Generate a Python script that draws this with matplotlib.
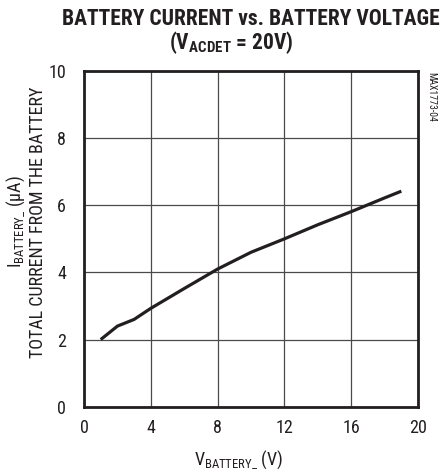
"""
Battery current vs. battery voltage (MAX1773 typical operating characteristic)
"""

import matplotlib
matplotlib.use('Agg')
import matplotlib.pyplot as plt
from matplotlib import font_manager as fm

# narrow sans, like the datasheet artwork
names = {f.name for f in fm.fontManager.ttflist}
FONT = 'Liberation Sans'
for cand in ['Arial Narrow', 'Liberation Sans Narrow', 'Nimbus Sans Narrow',
             'Roboto Condensed', 'Archivo Narrow']:
    if cand in names:
        FONT = cand
        break
plt.rcParams['font.family'] = [FONT, 'DejaVu Sans']
plt.rcParams['mathtext.fontset'] = 'custom'
plt.rcParams['mathtext.rm'] = FONT
plt.rcParams['mathtext.it'] = FONT
plt.rcParams['mathtext.bf'] = FONT + ':bold'

# data
v_battery = [1, 2, 3, 4, 6, 8, 10, 12, 14, 16, 18, 19]
i_battery = [2.0, 2.4, 2.6, 2.93, 3.52, 4.1, 4.6, 5.0, 5.42, 5.81, 6.22, 6.42]

x_ticks = [0, 4, 8, 12, 16, 20]
y_ticks = [0, 2, 4, 6, 8, 10]

INK = '#231f20'

fig = plt.figure(figsize=(4.45, 4.73), dpi=100)
ax = fig.add_axes([0.1888, 0.1402, 0.7506, 0.7097])

ax.plot(v_battery, i_battery, color=INK, linewidth=2.3, solid_capstyle='butt')

ax.set_xlim(0, 20)
ax.set_ylim(0, 10)
ax.set_xticks(x_ticks)
ax.set_yticks(y_ticks)
ax.tick_params(length=0, labelsize=13, colors=INK)
ax.tick_params(axis='x', pad=9)
ax.tick_params(axis='y', pad=13)
ax.grid(True, color='#4a4a4a', linewidth=0.9)
for s in ax.spines.values():
    s.set_linewidth(2.0)
    s.set_color(INK)

# titles
fig.text(0.564, 0.960, 'BATTERY CURRENT vs. BATTERY VOLTAGE', ha='center', va='center',
         fontsize=15.5, fontweight='bold', color=INK)
fig.text(0.519, 0.911, r'(V$_{\mathbf{ACDET}}$ = 20V)', ha='center', va='center',
         fontsize=15.5, fontweight='bold', color=INK)

# axis labels
fig.text(0.535, 0.027, r'V$_{\mathrm{BATTERY\_}}$ (V)', ha='center', va='center',
         fontsize=13, color=INK)
fig.text(0.036, 0.531, r'I$_{\mathrm{BATTERY\_}}$ ($\mu$A)', ha='center', va='center',
         rotation=90, fontsize=13, color=INK)
fig.text(0.085, 0.531, 'TOTAL CURRENT FROM THE BATTERY', ha='center', va='center',
         rotation=90, fontsize=13, color=INK)

# part number tag
fig.text(0.968, 0.795, 'MAX1773-04', ha='center', va='center', rotation=270,
         fontsize=7, color=INK)

plt.savefig('out.png', dpi=100)
plt.close()
